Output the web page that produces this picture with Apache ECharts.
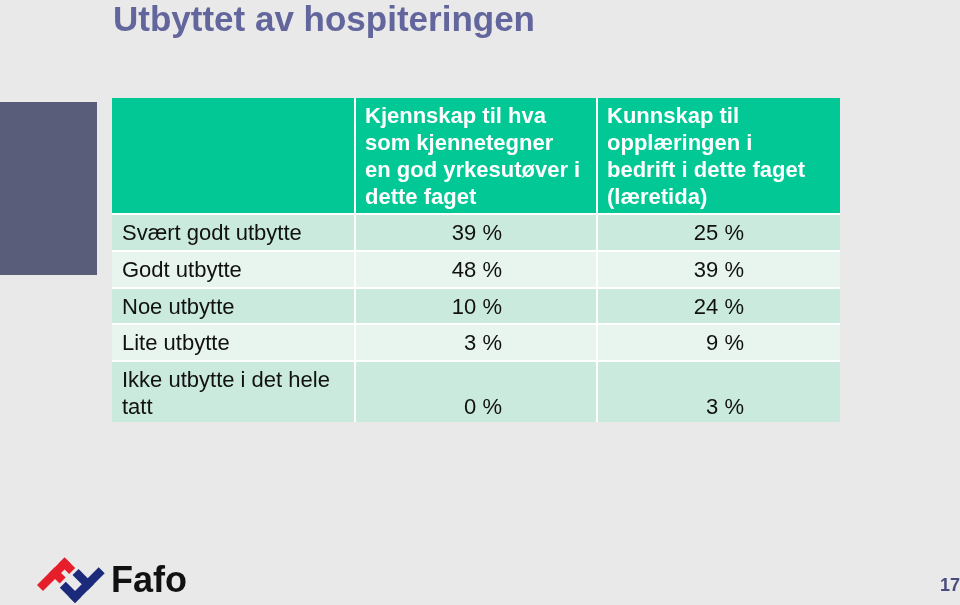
<!DOCTYPE html>
<html>
<head>
<meta charset="utf-8">
<script src="https://cdn.jsdelivr.net/npm/echarts@6/dist/echarts.min.js"></script>
<style>
html,body{margin:0;padding:0;background:#e9e9e9;}
#chart{width:960px;height:605px;}
</style>
</head>
<body>
<div id="chart"></div>
<script>
// ---- data ----
const titleText = 'Utbyttet av hospiteringen';
const headers = [
  'Kjennskap til hva\nsom kjennetegner\nen god yrkesutøver i\ndette faget',
  'Kunnskap til\nopplæringen i\nbedrift i dette faget\n(læretida)'
];
const categories = ['Svært godt utbytte', 'Godt utbytte', 'Noe utbytte', 'Lite utbytte', 'Ikke utbytte i det hele\ntatt'];
const kjennskap = [39, 48, 10, 3, 0];
const kunnskap = [25, 39, 24, 9, 3];
const pageNumber = '17';

// ---- layout (table units) ----
const colEdges = [0, 244, 486, 730];
const rowEdges = [0, 117, 154, 191, 227, 264, 326];
const GAP = 2;

const cells = [];
for (let c = 0; c < 3; c++) cells.push([c, 0]);
for (let r = 0; r < categories.length; r++) {
  for (let c = 0; c < 3; c++) cells.push([c, r + 1]);
}

function cellText(c, r) {
  if (r === 0) return c === 0 ? '' : headers[c - 1];
  const i = r - 1;
  if (c === 0) return categories[i];
  if (c === 1) return kjennskap[i] + ' %';
  return kunnskap[i] + ' %';
}

const FONT = '"Liberation Sans", Arial, Helvetica, sans-serif';

function renderItem(params, api) {
  const c = api.value(0), r = api.value(1);
  const p0 = api.coord([colEdges[c], rowEdges[r]]);
  const p1 = api.coord([colEdges[c + 1] - GAP, rowEdges[r + 1] - GAP]);
  const x = p0[0], y = p0[1], w = p1[0] - p0[0], h = p1[1] - p0[1];
  let fill;
  if (r === 0) fill = '#02c896';
  else fill = (r % 2 === 1) ? '#cbeade' : '#e7f5ee';
  const children = [{
    type: 'rect',
    shape: { x: x, y: y, width: w, height: h },
    style: { fill: fill }
  }];
  const txt = cellText(c, r);
  if (txt) {
    let style;
    if (r === 0) {
      style = { text: txt, x: x + 9, y: y + 5, align: 'left', verticalAlign: 'top',
        fill: '#ffffff', font: 'bold 22px ' + FONT, lineHeight: 27 };
    } else {
      const last = (r === rowEdges.length - 2);
      const tx = c === 0 ? x + 10 : x + 146;
      const al = c === 0 ? 'left' : 'right';
      if (last) {
        style = { text: txt, x: tx, y: y + h - 1, align: al, verticalAlign: 'bottom',
          fill: '#111111', font: '22px ' + FONT, lineHeight: 27 };
      } else {
        style = { text: txt, x: tx, y: y + h / 2 + 1.5, align: al, verticalAlign: 'middle',
          fill: '#111111', font: '22px ' + FONT, lineHeight: 27 };
      }
    }
    children.push({ type: 'text', style: style });
  }
  return { type: 'group', children: children };
}

// Fafo logo: rectangles in a 45deg rotated frame
function rot(origin, u0, u1, v0, v1) {
  const k = Math.SQRT1_2;
  const f = (u, v) => [origin[0] + (u + v) * k, origin[1] + (v - u) * k];
  return [f(u0, v0), f(u1, v0), f(u1, v1), f(u0, v1)];
}
const RED = '#e61e2b', BLUE = '#1b2a7a';
const redO = [37, 585], blueO = [69, 597];
const logoShapes = [
  { pts: rot(redO, 0, 39, 0, 8.5), fill: RED },
  { pts: rot(redO, 30.5, 39, 0, 15), fill: RED },
  { pts: rot(redO, 17, 25.5, 0, 15), fill: RED },
  { pts: rot(blueO, 0, 42, 0, 8.5), fill: BLUE },
  { pts: rot(blueO, 18, 26.5, -13, 8.5), fill: BLUE },
  { pts: rot(blueO, 0, 8.5, -13, 8.5), fill: BLUE }
];

const chart = echarts.init(document.getElementById('chart'), null, { renderer: 'canvas' });
chart.setOption({
  backgroundColor: '#e9e9e9',
  animation: false,
  title: {
    text: titleText,
    left: 113,
    top: 4,
    padding: 0,
    textStyle: { fontFamily: FONT, fontSize: 35, fontWeight: 'bold', color: '#62669c' }
  },
  grid: { left: 112, top: 98, width: 728, height: 324, containLabel: false },
  xAxis: { type: 'value', min: 0, max: 728, show: false },
  yAxis: { type: 'value', min: 0, max: 324, inverse: true, show: false },
  series: [{
    type: 'custom',
    coordinateSystem: 'cartesian2d',
    renderItem: renderItem,
    data: cells,
    silent: true
  }],
  graphic: [
    { type: 'rect', left: 0, top: 102, shape: { width: 97, height: 173 }, style: { fill: '#595d7a' }, silent: true },
    { type: 'rect', left: 112, top: 98, shape: { width: 728, height: 324 }, style: { fill: '#ffffff' }, z: -1, silent: true }
  ].concat(logoShapes.map((s) => ({
    type: 'polygon', shape: { points: s.pts },
    style: { fill: s.fill },
    z: 10 + (s.fill === BLUE ? 1 : 0), silent: true
  }))).concat([
    { type: 'text', left: 111, top: 564, style: { text: 'Fafo', font: 'bold 36px ' + FONT, fill: '#111111' }, silent: true },
    { type: 'text', left: 940, top: 577, style: { text: pageNumber, font: 'bold 18px ' + FONT, fill: '#4a4d7c' }, silent: true }
  ])
});
</script>
</body>
</html>
